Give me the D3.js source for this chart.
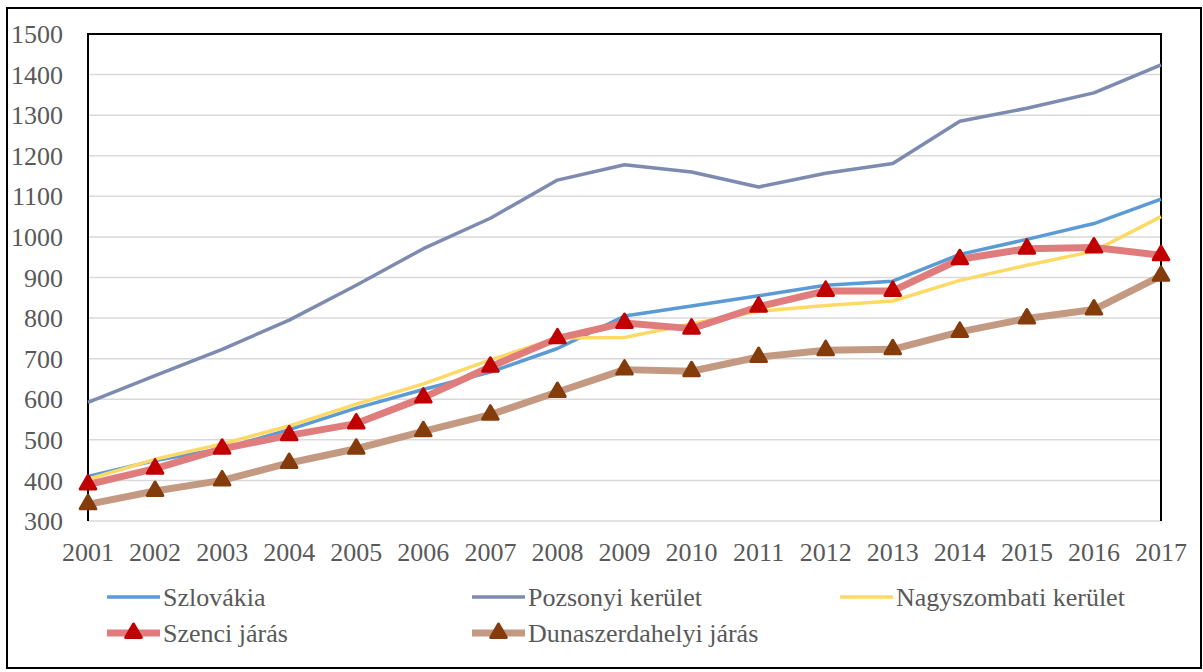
<!DOCTYPE html>
<html>
<head>
<meta charset="utf-8">
<script src="https://cdn.jsdelivr.net/npm/d3@7"></script>
<style>
  body { margin: 0; background: #fff; }
</style>
</head>
<body>
<div id="chart"></div>
<script>
const years = [2001, 2002, 2003, 2004, 2005, 2006, 2007, 2008, 2009, 2010, 2011, 2012, 2013, 2014, 2015, 2016, 2017]
const yTicks = [300, 400, 500, 600, 700, 800, 900, 1000, 1100, 1200, 1300, 1400, 1500]

const szlovakia = [410, 449, 478, 525, 578, 624, 667, 725, 805, 830, 855, 881, 891, 957, 994, 1033, 1093]
const pozsonyi = [592, 658, 723, 795, 881, 971, 1046, 1140, 1178, 1160, 1123, 1157, 1181, 1285, 1317, 1355, 1424]
const nagyszombati = [403, 452, 490, 534, 588, 638, 697, 751, 752, 786, 817, 831, 842, 893, 930, 965, 1050]
const szenci = [390, 429, 478, 511, 540, 604, 680, 750, 788, 774, 828, 867, 867, 945, 971, 974, 955]
const dunaszerdahelyi = [341, 374, 400, 443, 478, 521, 562, 618, 673, 669, 704, 721, 723, 766, 799, 821, 904]

const seriesNames = ['Szlovákia', 'Pozsonyi kerület', 'Nagyszombati kerület', 'Szenci járás', 'Dunaszerdahelyi járás']

const width = 1203, height = 672
const margin = {left: 88, top: 34, right: 42, bottom: 151}
const font = '"Liberation Serif", "Times New Roman", Tinos, "DejaVu Serif", serif'

const svg = d3.select('#chart').append('svg')
  .attr('width', width)
  .attr('height', height)
  .attr('font-family', font)

// outer frame
svg.append('rect')
  .attr('x', 7).attr('y', 8)
  .attr('width', 1194).attr('height', 660)
  .attr('fill', 'none').attr('stroke', '#000').attr('stroke-width', 2)

const x = d3.scaleLinear()
  .domain([2001, 2017])
  .range([margin.left, width - margin.right])
const y = d3.scaleLinear()
  .domain([300, 1500])
  .range([height - margin.bottom, margin.top])

// grid
svg.append('g').selectAll('line')
  .data(yTicks)
  .enter().append('line')
  .attr('x1', x(2001)).attr('x2', x(2017))
  .attr('y1', d => y(d)).attr('y2', d => y(d))
  .attr('stroke', '#d9d9d9').attr('stroke-width', 1.5)

// plot border (top, left, right black)
svg.append('path')
  .attr('d', `M${x(2001)},${y(300)}V${y(1500)}H${x(2017)}V${y(300)}`)
  .attr('fill', 'none').attr('stroke', '#000').attr('stroke-width', 2)

// y labels
svg.append('g').selectAll('text')
  .data(yTicks)
  .enter().append('text')
  .attr('x', 63)
  .attr('y', d => y(d))
  .attr('dy', '0.35em')
  .attr('text-anchor', 'end')
  .attr('font-size', 26)
  .attr('fill', '#595959')
  .text(d => d)

// x labels
svg.append('g').selectAll('text')
  .data(years)
  .enter().append('text')
  .attr('x', d => x(d))
  .attr('y', 552)
  .attr('dy', '0.35em')
  .attr('text-anchor', 'middle')
  .attr('font-size', 26)
  .attr('fill', '#595959')
  .text(d => d)

const line = d3.line()
  .x((d, i) => x(years[i]))
  .y(d => y(d))

const series = [
  {name: seriesNames[0], values: szlovakia, color: '#5b9bd5', w: 3.5},
  {name: seriesNames[1], values: pozsonyi, color: '#7d8bb0', w: 3.5},
  {name: seriesNames[2], values: nagyszombati, color: '#ffd966', w: 3.5},
  {name: seriesNames[3], values: szenci, color: '#e07c7c', w: 7, marker: '#c00000'},
  {name: seriesNames[4], values: dunaszerdahelyi, color: '#c39a81', w: 7, marker: '#843c0c'}
]

const tri = d3.symbol().type(d3.symbolTriangle).size(105)

series.forEach(s => {
  svg.append('path')
    .datum(s.values)
    .attr('d', line)
    .attr('fill', 'none')
    .attr('stroke', s.color)
    .attr('stroke-width', s.w)
    .attr('stroke-linejoin', 'round')
  if (s.marker) {
    svg.append('g').selectAll('path')
      .data(s.values)
      .enter().append('path')
      .attr('d', tri)
      .attr('transform', (d, i) => `translate(${x(years[i])},${y(d)})`)
      .attr('fill', s.marker)
      .attr('stroke', s.marker)
      .attr('stroke-width', 3)
      .attr('stroke-linejoin', 'round')
  }
})

// legend
const legendPos = [[107, 597], [472, 597], [840, 597], [107, 633], [472, 633]]
series.forEach((s, i) => {
  const [lx, ly] = legendPos[i]
  const g = svg.append('g').attr('transform', `translate(${lx},${ly})`)
  g.append('line')
    .attr('x1', 0).attr('x2', 53)
    .attr('stroke', s.color).attr('stroke-width', s.w)
  if (s.marker) {
    g.append('path')
      .attr('d', tri)
      .attr('transform', 'translate(26.5,0)')
      .attr('fill', s.marker)
      .attr('stroke', s.marker)
      .attr('stroke-width', 3)
      .attr('stroke-linejoin', 'round')
  }
  g.append('text')
    .attr('x', 56)
    .attr('dy', '0.35em')
    .attr('font-size', 26)
    .attr('fill', '#595959')
    .text(s.name)
})
</script>
</body>
</html>
